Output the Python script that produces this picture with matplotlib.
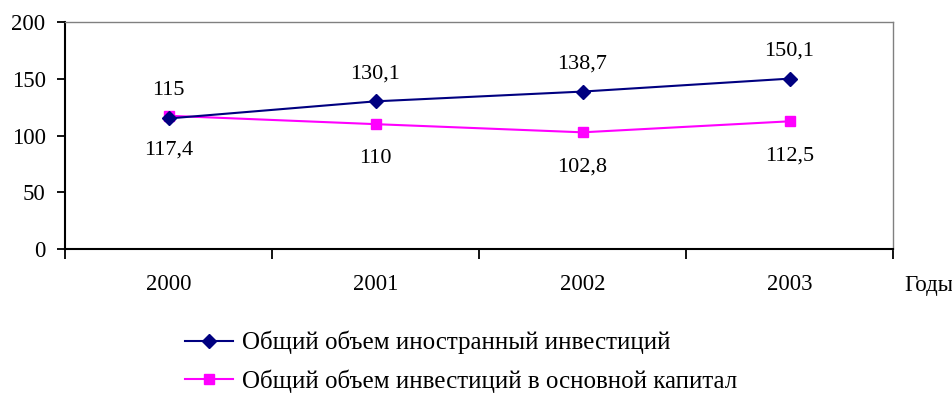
import numpy as np
import matplotlib.pyplot as plt

plt.rcParams['font.family'] = ['Liberation Serif', 'DejaVu Serif']

years = ['2000', '2001', '2002', '2003']
foreign_inv = [115, 130.1, 138.7, 150.1]
fixed_capital_inv = [117.4, 110, 102.8, 112.5]
series_names = ['Общий объем иностранный инвестиций',
                'Общий объем инвестиций в основной капитал']


def fmt(v):
    return ('%g' % v).replace('.', ',')


fig = plt.figure(figsize=(9.52, 3.94), dpi=100)
ax = fig.add_axes([65 / 952, 1 - 249 / 394, (893 - 65) / 952, (249 - 22) / 394])

x = np.arange(len(years)) + 0.5
l1, = ax.plot(x, foreign_inv, color='#000080', lw=1.5, marker='D', ms=7.5,
              clip_on=False, zorder=3)
l2, = ax.plot(x, fixed_capital_inv, color='#FF00FF', lw=1.5, marker='s', ms=7.5,
              clip_on=False, zorder=2)

# value labels: top series above, bottom series below
for xi, v in zip(x, foreign_inv):
    ax.annotate(fmt(v), (xi, v), xytext=(0, 20), textcoords='offset points',
                ha='center', va='center', fontsize=16)
for xi, v in zip(x, fixed_capital_inv):
    ax.annotate(fmt(v), (xi, v), xytext=(0, -25), textcoords='offset points',
                ha='center', va='center', fontsize=16)

ax.set_xlim(0, len(years))
ax.set_ylim(0, 200)
ax.set_yticks(range(0, 201, 50))
ax.set_xticks(range(0, len(years) + 1))
ax.set_xticklabels([])
ax.set_xticks(x, minor=True)
ax.set_xticklabels(years, minor=True)
ax.tick_params(axis='x', which='minor', length=0, pad=18, labelsize=16.3)
ax.tick_params(axis='x', which='major', length=7, width=1.3, direction='out')
ax.tick_params(axis='y', length=6, width=1.3, direction='out', labelsize=16.5, pad=8)

for side in ['top', 'right']:
    ax.spines[side].set_color('#808080')
    ax.spines[side].set_linewidth(1)
for side in ['left', 'bottom']:
    ax.spines[side].set_color('black')
    ax.spines[side].set_linewidth(1.5)

fig.text(904 / 952, 1 - 285 / 394, 'Годы', fontsize=16.5, va='center', ha='left')

fig.legend([l1, l2], series_names, loc='upper left',
           bbox_to_anchor=(185 / 952, 1 - 331 / 394), frameon=False,
           fontsize=18, handlelength=1.9, handletextpad=0.4, labelspacing=0.6,
           borderaxespad=0, borderpad=0)

fig.savefig('out.png', dpi=100)
